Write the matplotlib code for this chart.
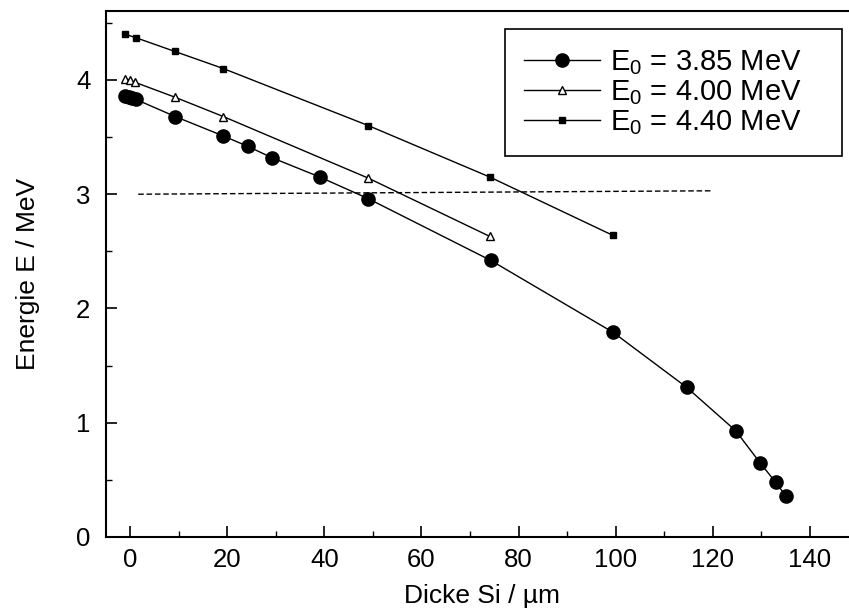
import numpy as np
import matplotlib
matplotlib.use("Agg")
import matplotlib.pyplot as plt

plt.rcParams['font.family'] = ['Liberation Sans', 'DejaVu Sans']
plt.rcParams['mathtext.fontset'] = 'custom'
plt.rcParams['mathtext.rm'] = 'Liberation Sans'
plt.rcParams['mathtext.it'] = 'Liberation Sans'

# E0 = 3.85 MeV (filled circles)
x_385 = [-1.0, -0.3, 0.4, 1.2, 9.3, 19.2, 24.2, 29.2, 39.1, 49.1, 74.3, 99.5, 114.6, 124.7, 129.7, 132.9, 135.0]
e_385 = [3.86, 3.85, 3.84, 3.83, 3.68, 3.51, 3.42, 3.32, 3.15, 2.96, 2.42, 1.79, 1.31, 0.93, 0.65, 0.48, 0.36]

# E0 = 4.00 MeV (open triangles)
x_400 = [-1.0, 0.0, 1.0, 9.2, 19.2, 49.1, 74.1]
e_400 = [4.01, 4.00, 3.98, 3.85, 3.68, 3.14, 2.63]

# E0 = 4.40 MeV (small squares)
x_440 = [-1.0, 1.2, 9.2, 19.2, 49.1, 74.1, 99.4]
e_440 = [4.40, 4.37, 4.25, 4.10, 3.60, 3.15, 2.64]

# dashed 3 MeV reference line
x_ref = [1.7, 120.0]
e_ref = [3.00, 3.03]

labels = ["E$_0$ = 3.85 MeV", "E$_0$ = 4.00 MeV", "E$_0$ = 4.40 MeV"]

fig = plt.figure(figsize=(8.49, 6.13), dpi=100)
ax = fig.add_axes([0.1245, 0.124, 0.8868, 0.8574])

ax.plot(x_385, e_385, color="black", lw=1.0, marker="o", ms=9.5, mfc="black", mec="black", label=labels[0])
ax.plot(x_400, e_400, color="black", lw=1.0, marker="^", ms=6, mfc="white", mec="black", mew=1.0, label=labels[1])
ax.plot(x_440, e_440, color="black", lw=1.0, marker="s", ms=5, mfc="black", mec="black", label=labels[2])
ax.plot(x_ref, e_ref, color="black", lw=1.0, ls=(0, (4, 2)))

ax.set_xlim(-5, 150)
ax.set_ylim(0, 4.6)
ax.set_xticks(np.arange(0, 141, 20))
ax.set_xticks(np.arange(0, 141, 10), minor=True)
ax.set_yticks(np.arange(0, 5, 1))
ax.set_yticks(np.arange(0, 4.6, 0.5), minor=True)
ax.tick_params(which="major", direction="in", length=8, width=1.2, labelsize=18.5, pad=8)
ax.tick_params(which="minor", direction="in", length=4, width=1.0)
ax.tick_params(axis="y", pad=11)

for side in ["left", "bottom", "top"]:
    ax.spines[side].set_linewidth(1.5)
ax.spines["right"].set_visible(False)

ax.set_xlabel("Dicke Si / µm", fontsize=19)
ax.set_ylabel("Energie E / MeV", fontsize=19)
ax.xaxis.set_label_coords(0.5, -0.09)
ax.yaxis.set_label_coords(-0.087, 0.5)

leg = ax.legend(loc="upper left", bbox_to_anchor=(505 / 849, 1 - 154 / 613, 337 / 849, 125 / 613),
                bbox_transform=fig.transFigure, mode="expand", fontsize=21, handlelength=2.6,
                numpoints=1, fancybox=False, framealpha=1, edgecolor="black",
                borderaxespad=0, borderpad=0.65, labelspacing=0.05, handletextpad=0.35)
leg.get_frame().set_linewidth(1.2)

fig.savefig("out.png", dpi=100)
